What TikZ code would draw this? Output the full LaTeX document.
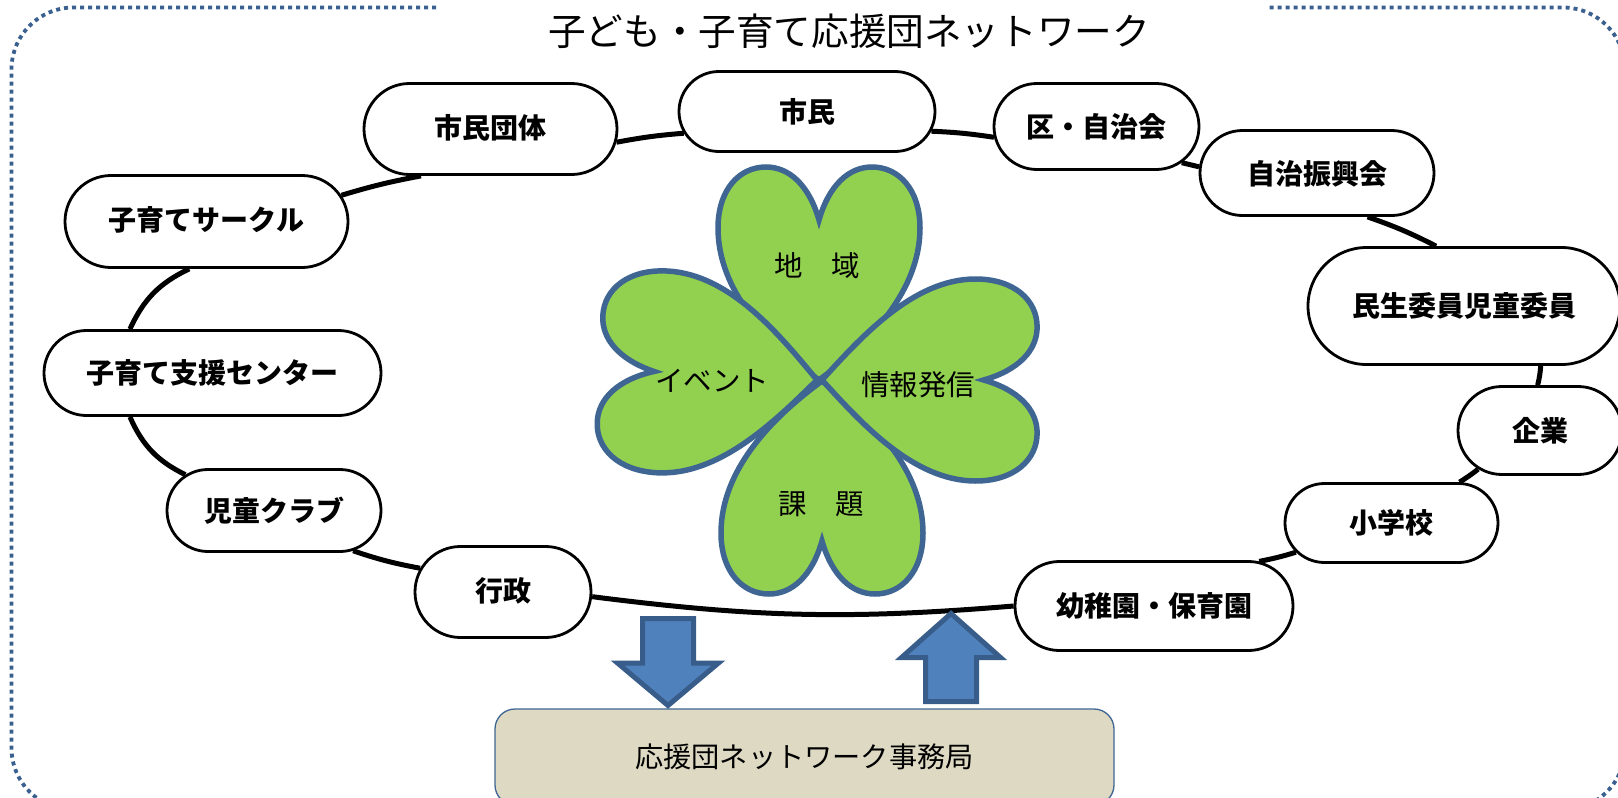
\documentclass[tikz,border=0pt]{standalone}
\usepackage{fontspec}
\setmainfont{Noto Sans CJK JP}[BoldFont=* Black]
\usetikzlibrary{shapes.misc}
\definecolor{framecol}{HTML}{3A6090}
\definecolor{leafgreen}{HTML}{92D050}
\definecolor{leafline}{HTML}{3F6592}
\definecolor{arrowfill}{HTML}{4F81BD}
\definecolor{arrowline}{HTML}{385D8A}
\definecolor{officefill}{HTML}{DDD9C3}
\begin{document}
\begin{tikzpicture}[
        x=1pt,y=-1pt,
        member/.style={draw,fill=white,line width=2.8pt,rounded rectangle,inner sep=0pt,font=\fontsize{28}{30}\selectfont\bfseries},
        ring/.style={line width=5pt},
        leaftext/.style={inner sep=0pt,font=\fontsize{28.5}{30}\selectfont},
        frameline/.style={draw=framecol,line width=3.8pt,dash pattern=on 4pt off 4pt,rounded corners=62pt},
        blockarrow/.style={draw=arrowline,fill=arrowfill,line width=5pt,miter limit=10},
        pics/heart/.style={code={
            \draw[draw=leafline,fill=leafgreen,line width=5.5pt]
                (0,0) .. controls (#1,-38) and (101,-90) .. (101,-152)
                .. controls (101,-190) and (80,-213) .. (53,-213)
                .. controls (30,-213) and (10,-195) .. (0,-160)
                .. controls (-10,-195) and (-30,-213) .. (-53,-213)
                .. controls (-80,-213) and (-101,-190) .. (-101,-152)
                .. controls (-101,-90) and (-#1,-38) .. (0,0) -- cycle;
        }},
        ]
    \useasboundingbox (0,0) rectangle (1618,798);
    % dotted frame, open at the top for the title
    \draw[frameline] (436,7.5) -- (11.5,7.5) -- (11.5,810) -- (1625,810) -- (1625,7.5) -- (1267,7.5);
    \node (title) [inner sep=0pt,font=\fontsize{37.6}{40}\selectfont] at (849,31) {子ども・子育て応援団ネットワーク};

    % the clover
    \pic at (819,380) {heart=52};
    \pic[rotate=180] at (822,381) {heart=52};
    \pic[rotate=87,yscale=1.02] at (817,380) {heart=42};
    \pic[rotate=-90,yscale=1.01] at (822,380) {heart=42};
    \node (chiiki) [leaftext] at (817,266) {地　域};
    \node (kadai)  [leaftext] at (821,504) {課　題};
    \node (event)  [leaftext] at (712,381) {イベント};
    \node (joho)   [leaftext] at (918,385) {情報発信};

    % members round the ring
    \node (dantai)  [member,text depth=6pt,minimum width=253pt,minimum height=91pt] at (490.5,129)  {市民団体};
    \node (shimin)  [member,minimum width=256pt,minimum height=80pt] at (807,111.5)  {市民};
    \node (ku)      [member,text depth=2pt,minimum width=205pt,minimum height=86pt] at (1096.5,126.5) {区・自治会};
    \node (shinko)  [member,text depth=2pt,minimum width=234pt,minimum height=85pt] at (1317,173)   {自治振興会};
    \node (minsei)  [member,minimum width=312pt,minimum height=117pt] at (1464,306)  {民生委員児童委員};
    \node (kigyo)   [member,minimum width=164pt,minimum height=88pt] at (1540,430.5) {企業};
    \node (shogaku) [member,minimum width=213pt,minimum height=79pt] at (1391.5,523) {小学校};
    \node (yochien) [member,minimum width=278pt,minimum height=89pt] at (1154,606)   {幼稚園・保育園};
    \node (gyosei)  [member,text depth=4pt,minimum width=176pt,minimum height=91pt] at (503,592)    {行政};
    \node (jido)    [member,minimum width=214pt,minimum height=82pt] at (274,510.5)  {児童クラブ};
    \node (shien)   [member,minimum width=337pt,minimum height=85pt] at (212.5,373)  {子育て支援センター};
    \node (circle)  [member,text depth=6pt,minimum width=283pt,minimum height=92pt] at (206.5,221.5) {子育てサークル};

    \draw[ring] (dantai.-6) to[bend left=3] (shimin.190);
    \draw[ring] (shimin.-9) to[bend left=3] (ku.186);
    \draw[ring] (ku.-23) to (shinko.177);
    \draw[ring] (shinko.-41) to[bend left=4] (minsei.115);
    \draw[ring] (minsei.-38) to[bend left=5] (kigyo.93);
    \draw[ring] (kigyo.212) to[bend left=3] (shogaku.31);
    \draw[ring] (shogaku.197) to[bend left=3] (yochien.23);
    \draw[ring] (yochien.180) to[bend left=6] (gyosei.-3);
    \draw[ring] (gyosei.164) to[bend left=4] (jido.-27);
    \draw[ring] (jido.158) to[bend left=20] (shien.208);
    \draw[ring] (shien.152) to[bend left=20] (circle.250);
    \draw[ring] (circle.11) to[bend left=3] (dantai.214);

    % the office and its two arrows
    \node (office) [draw=leafline,fill=officefill,line width=1.3pt,rounded corners=20pt,inner sep=0pt,
        minimum width=619pt,minimum height=96pt,font=\fontsize{28.2}{30}\selectfont] at (804.5,757) {応援団ネットワーク事務局};
    \draw[blockarrow] (642.5,618.5) -- (693.5,618.5) -- (693.5,663) -- (718.5,663) -- (668,705.5) -- (617.5,663) -- (642.5,663) -- cycle;
    \draw[blockarrow] (925.5,701.5) -- (976.5,701.5) -- (976.5,657.5) -- (1000.5,657.5) -- (951,613.5) -- (901.5,657.5) -- (925.5,657.5) -- cycle;
\end{tikzpicture}
\end{document}
